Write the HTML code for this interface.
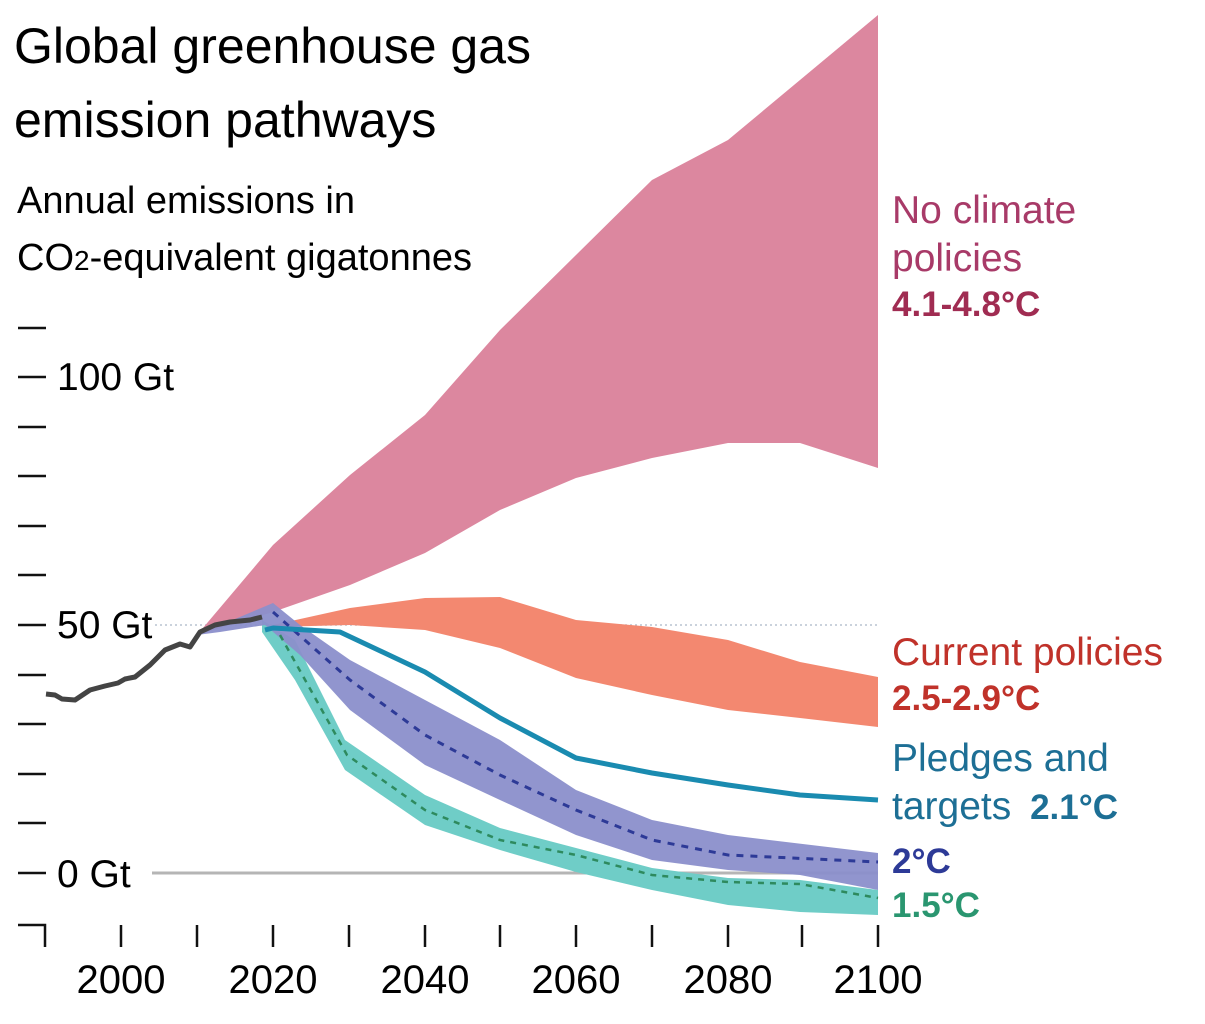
<!DOCTYPE html><html><head><style>body{margin:0;background:#fff}svg{display:block}text{font-family:"Liberation Sans",sans-serif}</style></head><body>
<svg width="1205" height="1024" viewBox="0 0 1205 1024">
<text x="14" y="63" font-size="50" fill="#000">Global greenhouse gas</text>
<text x="14" y="137" font-size="50" fill="#000">emission pathways</text>
<text x="17" y="213" font-size="38" fill="#000">Annual emissions in</text>
<text x="17" y="270" font-size="38" fill="#000">CO<tspan font-size="28">2</tspan>-equivalent gigatonnes</text>
<g stroke="#111" stroke-width="2.5">
<line x1="18" y1="328" x2="46" y2="328"/><line x1="18" y1="377" x2="46" y2="377"/><line x1="18" y1="427" x2="46" y2="427"/><line x1="18" y1="476" x2="46" y2="476"/><line x1="18" y1="526" x2="46" y2="526"/><line x1="18" y1="575" x2="46" y2="575"/><line x1="18" y1="625" x2="46" y2="625"/><line x1="18" y1="675" x2="46" y2="675"/><line x1="18" y1="724" x2="46" y2="724"/><line x1="18" y1="774" x2="46" y2="774"/><line x1="18" y1="823" x2="46" y2="823"/><line x1="18" y1="873" x2="46" y2="873"/>
<polyline points="18,925 45,925 45,947" fill="none"/>
<line x1="121" y1="925" x2="121" y2="947"/><line x1="197" y1="925" x2="197" y2="947"/><line x1="273" y1="925" x2="273" y2="947"/><line x1="349" y1="925" x2="349" y2="947"/><line x1="425" y1="925" x2="425" y2="947"/><line x1="500" y1="925" x2="500" y2="947"/><line x1="576" y1="925" x2="576" y2="947"/><line x1="652" y1="925" x2="652" y2="947"/><line x1="728" y1="925" x2="728" y2="947"/><line x1="802" y1="925" x2="802" y2="947"/><line x1="878" y1="925" x2="878" y2="947"/>
</g>
<g font-size="39" fill="#000">
<text x="57" y="390">100 Gt</text><text x="57" y="638">50 Gt</text><text x="57" y="887">0 Gt</text>
<g text-anchor="middle" font-size="40"><text x="121" y="993">2000</text><text x="273" y="993">2020</text><text x="425" y="993">2040</text><text x="576" y="993">2060</text><text x="728" y="993">2080</text><text x="878" y="993">2100</text></g>
</g>
<line x1="155" y1="625" x2="878" y2="625" stroke="#b8c4d0" stroke-width="1.5" stroke-dasharray="2,3"/>
<line x1="152" y1="873" x2="878" y2="873" stroke="#b5b5b5" stroke-width="3"/>
<polygon fill="#dc879f" points="197,635 273,545 350,475 425,415 500,330 576,255 652,180 728,140 800,80 878,15 878,468 800,443 728,443 652,458 576,478 500,510 425,553 350,585 273,612"/>
<polygon fill="#f38870" points="273,625 350,608 425,598 500,597 576,620 652,627 728,640 800,662 878,677 878,727 800,718 728,710 652,695 576,678 500,648 425,630 350,625 273,627"/>
<polygon fill="#6fcdc7" points="262,620 295,640 345,740 425,795 500,828 576,848 652,868 728,878 800,880 878,890 878,915 800,912 728,905 652,890 576,872 500,850 425,825 345,770 295,680 262,632"/>
<polygon fill="#8b8fcb" fill-opacity="0.95" points="197,635 273,603 300,625 350,660 425,700 500,740 576,790 652,820 728,835 878,853 878,890 800,875 728,870 652,860 576,835 500,800 425,765 350,710 300,655 265,625 220,632"/>
<polyline fill="none" stroke="#2e8a5e" stroke-width="2.5" stroke-dasharray="6,6" points="280,635 347,755 425,810 500,840 576,855 652,875 728,882 800,884 878,898"/>
<polyline fill="none" stroke="#2d3a97" stroke-width="3" stroke-dasharray="7,7" points="273,612 350,680 425,735 500,775 576,810 652,840 728,855 878,862"/>
<polyline fill="none" stroke="#1a8bb0" stroke-width="5" stroke-linejoin="round" points="265,630 273,628 340,632 425,672 500,718 576,758 652,773 728,785 800,795 878,800"/>
<polyline fill="none" stroke="#444" stroke-width="5" stroke-linejoin="round" points="46,694 55,695 62,699 75,700 90,690 105,686 118,683 125,679 135,677 150,665 165,650 180,644 190,647 200,632 215,625 230,622 250,620 262,617"/>
<g font-size="39">
<text x="892" y="223" fill="#a83a68">No climate</text>
<text x="892" y="271" fill="#a83a68">policies</text>
<text x="892" y="316" fill="#a02c52" font-weight="bold" font-size="35">4.1-4.8°C</text>
<text x="892" y="665" fill="#c0322a">Current policies</text>
<text x="892" y="710" fill="#c0322a" font-weight="bold" font-size="35">2.5-2.9°C</text>
<text x="892" y="771" fill="#1d6f95">Pledges and</text>
<text x="892" y="819" fill="#1d6f95">targets <tspan font-weight="bold" font-size="35" dx="8">2.1°C</tspan></text>
<text x="892" y="873" fill="#2d3a97" font-weight="bold" font-size="35">2°C</text>
<text x="892" y="917" fill="#2a9670" font-weight="bold" font-size="35">1.5°C</text>
</g>
</svg></body></html>
